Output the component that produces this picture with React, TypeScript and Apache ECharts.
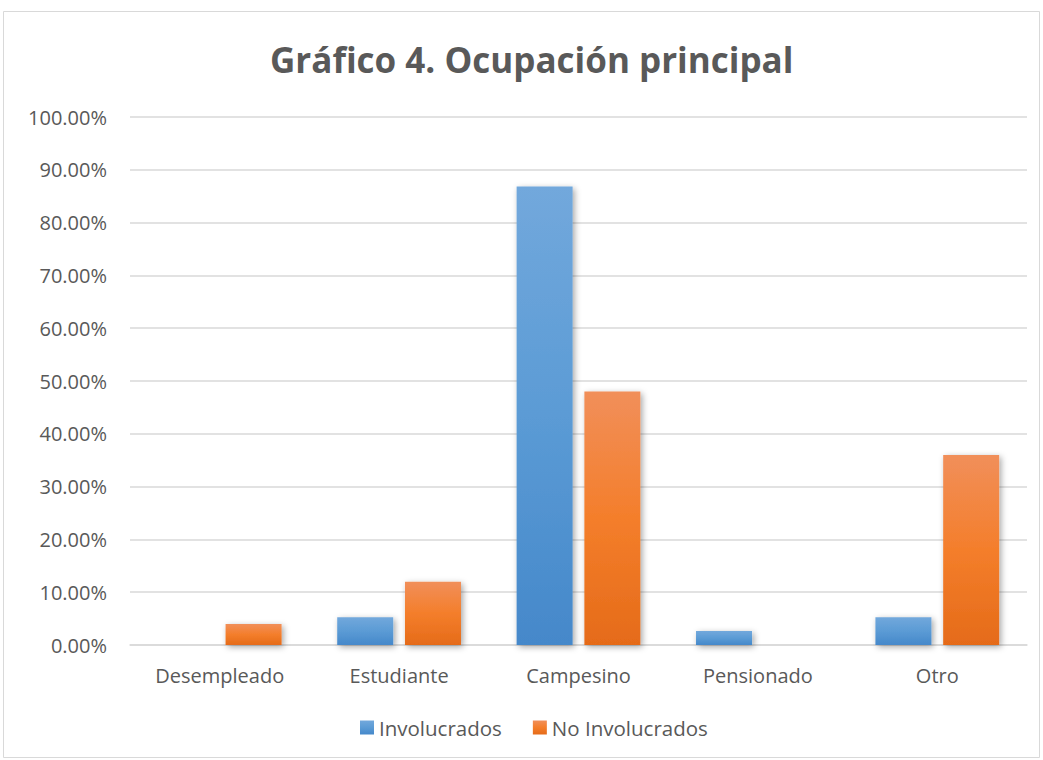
import React, { useEffect, useRef } from "react";
import * as echarts from "echarts";

const categories = ["Desempleado", "Estudiante", "Campesino", "Pensionado", "Otro"];
const involucrados = [0, 5.26, 86.84, 2.63, 5.26];
const noInvolucrados = [4.0, 12.0, 48.0, 0, 36.0];
const seriesNames = ["Involucrados", "No Involucrados"];

const blueGrad = new echarts.graphic.LinearGradient(0, 0, 0, 1, [
  { offset: 0, color: "#72a8dc" },
  { offset: 0.5, color: "#5b9bd5" },
  { offset: 1, color: "#4588ca" },
]);
const orangeGrad = new echarts.graphic.LinearGradient(0, 0, 0, 1, [
  { offset: 0, color: "#f18f5a" },
  { offset: 0.5, color: "#f47e2b" },
  { offset: 1, color: "#e56b19" },
]);

export default function App() {
  const ref = useRef<HTMLDivElement>(null);
  useEffect(() => {
    if (!ref.current) return;
    const chart = echarts.init(ref.current, null, { renderer: "svg" });
    const font = "'Open Sans', 'Noto Sans', sans-serif";
    chart.setOption({
      animation: false,
      backgroundColor: "#ffffff",
      graphic: [
        {
          type: "rect",
          shape: { x: 3.5, y: 11.5, width: 1036, height: 746 },
          style: { fill: "none", stroke: "#d9d9d9", lineWidth: 1 },
          silent: true,
        },
      ],
      title: {
        text: "Gráfico 4. Ocupación principal",
        left: 265,
        top: 37,
        textStyle: { fontFamily: font, fontWeight: "bold", fontSize: 35, color: "#595959" },
      },
      legend: {
        data: seriesNames,
        bottom: 17,
        left: 355,
        itemWidth: 14,
        itemHeight: 14,
        itemGap: 31,
        icon: "rect",
        textStyle: { fontFamily: font, fontSize: 20.5, color: "#595959" },
      },
      grid: { left: 130, right: 16, top: 117, bottom: 115, containLabel: false },
      xAxis: {
        type: "category",
        data: categories,
        axisLine: { lineStyle: { color: "#d9d9d9", width: 1.5 } },
        axisTick: { show: false },
        axisLabel: { fontFamily: font, fontSize: 20, color: "#595959", margin: 20 },
      },
      yAxis: {
        type: "value",
        min: 0,
        max: 100,
        interval: 10,
        axisLine: { show: false },
        axisTick: { show: false },
        splitLine: { lineStyle: { color: "#d9d9d9", width: 1.5 } },
        axisLabel: {
          fontFamily: font,
          fontSize: 20,
          color: "#595959",
          margin: 23,
          formatter: (v: number) => v.toFixed(2) + "%",
        },
      },
      series: [
        {
          name: seriesNames[0],
          type: "bar",
          data: involucrados,
          barWidth: 56,
          barGap: "21%",
          itemStyle: {
            color: blueGrad,
            shadowBlur: 6,
            shadowColor: "rgba(0,0,0,0.35)",
            shadowOffsetX: 2,
            shadowOffsetY: 2,
          },
        },
        {
          name: seriesNames[1],
          type: "bar",
          data: noInvolucrados,
          barWidth: 56,
          barGap: "21%",
          itemStyle: {
            color: orangeGrad,
            shadowBlur: 6,
            shadowColor: "rgba(0,0,0,0.35)",
            shadowOffsetX: 2,
            shadowOffsetY: 2,
          },
        },
      ],
    });
    return () => chart.dispose();
  }, []);
  return (
    <div
      ref={ref}
      style={{ position: "absolute", left: 0, top: 0, width: 1043, height: 760 }}
    />
  );
}
